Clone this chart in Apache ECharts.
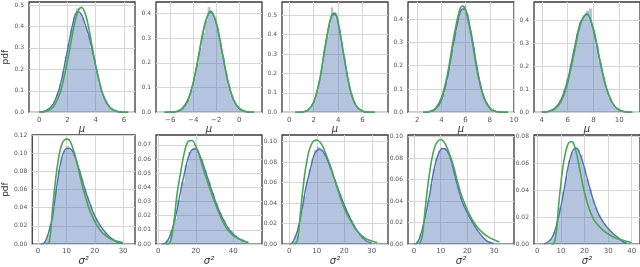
<!DOCTYPE html>
<html><head><meta charset="utf-8">
<script src="https://cdn.jsdelivr.net/npm/echarts@6/dist/echarts.min.js"></script>
<style>html,body{margin:0;padding:0;background:#fff}#c{width:640px;height:267px}</style>
</head><body><div id="c"></div>
<script>
// ---------- DATA ----------
// Panel 1 (mu)
const mu1BlueX = [0, 0.5, 1.0, 1.5, 2.0, 2.5, 2.75, 3.0, 3.25, 3.5, 3.75, 4.0, 4.5, 5.0, 5.5, 6.0, 6.3];
const mu1BlueY = [0.002, 0.009, 0.04, 0.13, 0.29, 0.445, 0.47, 0.455, 0.41, 0.36, 0.29, 0.215, 0.085, 0.024, 0.005, 0.001, 0.0003];
const mu1GreenX = [0, 0.5, 1.0, 1.5, 2.0, 2.5, 2.75, 3.0, 3.25, 3.5, 4.0, 4.5, 5.0, 5.5, 6.0, 6.3];
const mu1GreenY = [0.0006, 0.0049, 0.026, 0.097, 0.241, 0.414, 0.471, 0.489, 0.461, 0.396, 0.220, 0.084, 0.022, 0.004, 0.0005, 0.0001];
const mu1HistStart = 0.2, mu1HistWidth = 0.2;
const mu1Hist = [0.004, 0.009, 0.017, 0.03, 0.055, 0.088, 0.13, 0.19, 0.26, 0.32, 0.39, 0.445, 0.485, 0.46, 0.44, 0.40, 0.36, 0.30, 0.25, 0.185, 0.13, 0.085, 0.056, 0.033, 0.019, 0.01, 0.005, 0.002, 0.001];
// Panel 2 (mu)
const mu2BlueX = [-6.5, -6, -5.5, -5, -4.5, -4, -3.5, -3, -2.5, -2, -1.5, -1, -0.5, 0, 0.5, 1.0, 1.3];
const mu2BlueY = [0, 0.0002, 0.002, 0.011, 0.043, 0.118, 0.235, 0.352, 0.405, 0.36, 0.246, 0.128, 0.05, 0.015, 0.003, 0.0005, 0.0001];
const mu2GreenX = [-6.5, -6, -5.5, -5, -4.5, -4, -3.5, -3, -2.5, -2, -1.5, -1, -0.5, 0, 0.5, 1.0, 1.3];
const mu2GreenY = [0.0001, 0.0006, 0.0034, 0.0145, 0.048, 0.121, 0.237, 0.355, 0.409, 0.363, 0.247, 0.129, 0.052, 0.016, 0.0038, 0.0007, 0.0002];
const mu2HistStart = -6.0, mu2HistWidth = 0.25;
const mu2Hist = [0.0005, 0.0015, 0.004, 0.008, 0.017, 0.032, 0.056, 0.09, 0.14, 0.2, 0.26, 0.32, 0.37, 0.425, 0.40, 0.38, 0.34, 0.28, 0.22, 0.16, 0.105, 0.068, 0.04, 0.022, 0.011, 0.005, 0.002, 0.0008];
// Panel 3 (mu)
const mu3BlueX = [0.5, 1.0, 1.5, 2.0, 2.5, 3.0, 3.5, 3.75, 4.0, 4.5, 5.0, 5.5, 6.0, 6.5, 7.0];
const mu3BlueY = [0, 0.001, 0.009, 0.05, 0.168, 0.36, 0.5, 0.503, 0.46, 0.28, 0.115, 0.032, 0.006, 0.001, 0.0001];
const mu3GreenX = [0.5, 1.0, 1.5, 2.0, 2.5, 3.0, 3.5, 3.75, 4.0, 4.5, 5.0, 5.5, 6.0, 6.5, 7.0];
const mu3GreenY = [0.0001, 0.0015, 0.011, 0.054, 0.171, 0.362, 0.504, 0.510, 0.464, 0.282, 0.113, 0.030, 0.0053, 0.0006, 0.0001];
const mu3HistStart = 1.0, mu3HistWidth = 0.2;
const mu3Hist = [0.002, 0.004, 0.009, 0.018, 0.036, 0.065, 0.11, 0.168, 0.24, 0.32, 0.39, 0.45, 0.54, 0.505, 0.48, 0.43, 0.36, 0.28, 0.21, 0.14, 0.095, 0.058, 0.032, 0.018, 0.009, 0.005, 0.002, 0.001];
// Panel 4 (mu)
const mu4BlueX = [2.5, 3.0, 3.5, 4.0, 4.5, 5.0, 5.5, 5.75, 6.0, 6.5, 7.0, 7.5, 8.0, 8.5, 9.0, 9.5];
const mu4BlueY = [0.0003, 0.002, 0.013, 0.052, 0.148, 0.295, 0.42, 0.443, 0.44, 0.33, 0.175, 0.068, 0.019, 0.004, 0.0007, 0.0001];
const mu4GreenX = [2.5, 3.0, 3.5, 4.0, 4.5, 5.0, 5.5, 5.75, 6.0, 6.5, 7.0, 7.5, 8.0, 8.5, 9.0, 9.5];
const mu4GreenY = [0.0005, 0.0033, 0.0167, 0.062, 0.164, 0.316, 0.438, 0.456, 0.438, 0.316, 0.164, 0.062, 0.0167, 0.0033, 0.0005, 0.0001];
const mu4HistStart = 2.8, mu4HistWidth = 0.25;
const mu4Hist = [0.0015, 0.004, 0.01, 0.022, 0.045, 0.08, 0.13, 0.195, 0.27, 0.345, 0.405, 0.44, 0.455, 0.42, 0.35, 0.28, 0.2, 0.13, 0.08, 0.045, 0.024, 0.011, 0.005, 0.002, 0.001, 0.0005];
// Panel 5 (mu)
const mu5BlueX = [4.0, 4.5, 5.0, 5.5, 6.0, 6.5, 7.0, 7.5, 8.0, 8.5, 9.0, 9.5, 10.0, 10.5, 11.0];
const mu5BlueY = [0.001, 0.004, 0.017, 0.055, 0.14, 0.27, 0.39, 0.425, 0.355, 0.22, 0.103, 0.036, 0.009, 0.002, 0.0003];
const mu5GreenX = [4.0, 4.5, 5.0, 5.5, 6.0, 6.5, 7.0, 7.5, 8.0, 8.5, 9.0, 9.5, 10.0, 10.5, 11.0];
const mu5GreenY = [0.0004, 0.0028, 0.0134, 0.047, 0.127, 0.255, 0.382, 0.428, 0.36, 0.227, 0.107, 0.038, 0.010, 0.002, 0.0003];
const mu5HistStart = 4.4, mu5HistWidth = 0.25;
const mu5Hist = [0.004, 0.009, 0.018, 0.034, 0.058, 0.095, 0.145, 0.21, 0.275, 0.34, 0.39, 0.42, 0.44, 0.45, 0.36, 0.29, 0.215, 0.155, 0.1, 0.062, 0.034, 0.018, 0.009, 0.004, 0.002, 0.001];
// Panel 6 (sigma^2)
const s1BlueX = [1, 2, 3, 4, 5, 6, 7, 8, 9, 10, 11, 12, 13, 14, 15, 16, 17, 18, 20, 22, 24, 26, 28, 30];
const s1BlueY = [0, 0.001, 0.006, 0.016, 0.028, 0.05, 0.072, 0.09, 0.101, 0.105, 0.1055, 0.103, 0.096, 0.087, 0.077, 0.066, 0.056, 0.047, 0.031, 0.02, 0.012, 0.006, 0.002, 0.0005];
const s1GreenX = [3, 4, 5, 6, 7, 8, 9, 10, 11, 12, 13, 14, 15, 16, 17, 18, 20, 22, 24, 26, 28, 30];
const s1GreenY = [0, 0.003, 0.035, 0.066, 0.09, 0.106, 0.1135, 0.1155, 0.1145, 0.108, 0.098, 0.086, 0.072, 0.06, 0.049, 0.039, 0.025, 0.015, 0.009, 0.005, 0.003, 0.0015];
const s1HistStart = 2, s1HistWidth = 1;
const s1Hist = [0.003, 0.01, 0.022, 0.04, 0.061, 0.082, 0.096, 0.103, 0.108, 0.104, 0.1, 0.092, 0.082, 0.072, 0.061, 0.052, 0.043, 0.035, 0.028, 0.022, 0.017, 0.013, 0.01, 0.007, 0.005, 0.003, 0.002, 0.001];
// Panel 7 (sigma^2)
const s2BlueX = [2, 4, 6, 8, 10, 12, 14, 16, 18, 20, 22, 24, 26, 28, 30, 32, 34, 36, 38, 40, 44, 48];
const s2BlueY = [0, 0.001, 0.005, 0.013, 0.024, 0.038, 0.05, 0.061, 0.0665, 0.067, 0.063, 0.056, 0.048, 0.04, 0.032, 0.025, 0.019, 0.014, 0.01, 0.007, 0.003, 0.001];
const s2GreenX = [4, 6, 8, 10, 12, 14, 16, 18, 20, 22, 24, 26, 28, 30, 32, 34, 36, 38, 40, 44, 48];
const s2GreenY = [0, 0.0005, 0.012, 0.035, 0.051, 0.065, 0.0725, 0.073, 0.069, 0.062, 0.053, 0.045, 0.037, 0.030, 0.023, 0.017, 0.012, 0.0085, 0.006, 0.003, 0.0012];
const s2HistStart = 4, s2HistWidth = 2;
const s2Hist = [0.003, 0.009, 0.018, 0.031, 0.044, 0.056, 0.065, 0.068, 0.066, 0.06, 0.052, 0.044, 0.036, 0.029, 0.022, 0.017, 0.012, 0.009, 0.006, 0.004, 0.003, 0.001];
// Panel 8 (sigma^2)
const s3BlueX = [0, 1, 2, 3, 4, 5, 6, 7, 8, 9, 10, 11, 12, 13, 14, 15, 16, 18, 20, 22, 24, 26, 28, 30];
const s3BlueY = [0, 0.001, 0.006, 0.013, 0.025, 0.039, 0.055, 0.066, 0.077, 0.087, 0.091, 0.0927, 0.091, 0.087, 0.081, 0.074, 0.067, 0.052, 0.038, 0.026, 0.016, 0.008, 0.003, 0.001];
const s3GreenX = [2, 3, 4, 5, 6, 7, 8, 9, 10, 11, 12, 13, 14, 15, 16, 18, 20, 22, 24, 26, 28, 30, 32];
const s3GreenY = [0, 0.004, 0.029, 0.055, 0.075, 0.089, 0.097, 0.101, 0.1015, 0.1, 0.096, 0.09, 0.083, 0.076, 0.067, 0.05, 0.035, 0.024, 0.015, 0.009, 0.005, 0.003, 0.0015];
const s3HistStart = 1, s3HistWidth = 1;
const s3Hist = [0.003, 0.009, 0.019, 0.032, 0.047, 0.061, 0.073, 0.083, 0.092, 0.095, 0.092, 0.089, 0.084, 0.078, 0.071, 0.063, 0.056, 0.049, 0.041, 0.035, 0.029, 0.024, 0.019, 0.014, 0.01, 0.007, 0.004, 0.002, 0.001, 0.0005];
// Panel 9 (sigma^2)
const s4BlueX = [0, 1, 2, 3, 4, 5, 6, 7, 8, 9, 10, 11, 12, 13, 14, 15, 16, 18, 20, 22, 24, 26, 28, 30];
const s4BlueY = [0, 0.001, 0.005, 0.013, 0.023, 0.035, 0.048, 0.063, 0.075, 0.083, 0.088, 0.089, 0.088, 0.084, 0.077, 0.067, 0.057, 0.04, 0.029, 0.02, 0.012, 0.006, 0.002, 0.0005];
const s4GreenX = [2, 3, 4, 5, 6, 7, 8, 9, 10, 11, 12, 13, 14, 15, 16, 18, 20, 22, 24, 26, 28, 30, 32];
const s4GreenY = [0, 0.006, 0.028, 0.051, 0.069, 0.083, 0.092, 0.096, 0.0974, 0.096, 0.092, 0.086, 0.079, 0.071, 0.061, 0.044, 0.032, 0.022, 0.015, 0.01, 0.0065, 0.004, 0.002];
const s4HistStart = 1, s4HistWidth = 1;
const s4Hist = [0.003, 0.009, 0.018, 0.029, 0.041, 0.056, 0.07, 0.08, 0.087, 0.089, 0.09, 0.086, 0.081, 0.074, 0.062, 0.054, 0.045, 0.037, 0.032, 0.027, 0.023, 0.018, 0.014, 0.01, 0.007, 0.005, 0.003, 0.002, 0.001, 0.0005];
// Panel 10 (sigma^2)
const s5BlueX = [3, 4, 6, 8, 10, 11, 12, 13, 14, 15, 16, 17, 18, 19, 20, 22, 24, 26, 28, 30, 32, 34, 36, 38];
const s5BlueY = [0, 0.001, 0.004, 0.013, 0.028, 0.037, 0.047, 0.057, 0.064, 0.069, 0.071, 0.0705, 0.067, 0.062, 0.056, 0.043, 0.031, 0.022, 0.016, 0.0115, 0.008, 0.005, 0.002, 0.0005];
const s5GreenX = [6, 7, 8, 9, 10, 11, 12, 13, 14, 15, 16, 17, 18, 19, 20, 22, 24, 26, 28, 30, 32, 34, 36, 38, 40];
const s5GreenY = [0, 0.0005, 0.008, 0.028, 0.045, 0.059, 0.068, 0.074, 0.0757, 0.0755, 0.071, 0.064, 0.055, 0.046, 0.038, 0.026, 0.018, 0.0135, 0.01, 0.0075, 0.0055, 0.004, 0.003, 0.002, 0.001];
const s5HistStart = 3, s5HistWidth = 1.25;
const s5Hist = [0.0005, 0.002, 0.004, 0.009, 0.017, 0.027, 0.039, 0.05, 0.062, 0.068, 0.072, 0.07, 0.066, 0.057, 0.048, 0.041, 0.033, 0.027, 0.022, 0.018, 0.015, 0.012, 0.0095, 0.0075, 0.0055, 0.004, 0.002, 0.001];

// Tick labels
const muXTicks = [[0, 2, 4, 6], [-6, -4, -2, 0], [0, 2, 4, 6], [2, 4, 6, 8, 10], [4, 6, 8, 10]];
const sXTicks = [[0, 10, 20, 30], [0, 20, 40], [0, 10, 20, 30], [0, 10, 20, 30], [0, 10, 20, 30, 40]];
const muYTicks = [[0, 0.1, 0.2, 0.3, 0.4, 0.5], [0, 0.1, 0.2, 0.3, 0.4], [0, 0.1, 0.2, 0.3, 0.4, 0.5], [0, 0.1, 0.2, 0.3, 0.4], [0, 0.1, 0.2, 0.3, 0.4]];
const sYTicks = [[0, 0.02, 0.04, 0.06, 0.08, 0.10, 0.12], [0, 0.01, 0.02, 0.03, 0.04, 0.05, 0.06, 0.07], [0, 0.02, 0.04, 0.06, 0.08, 0.10], [0, 0.02, 0.04, 0.06, 0.08, 0.10], [0, 0.02, 0.04, 0.06, 0.08]];
const axisNames = { mu: 'μ', sigma: 'σ²', pdf: 'pdf' };

// ---------- LAYOUT / STYLE ----------
const lefts = [29, 156, 282, 408, 534];
const panelW = 106;
const rowTop = [2, 135], rowH = [110.3, 110.7];
const xRanges = [[-0.73, 6.79], [-7.24, 1.98], [-0.6, 8.09], [1.24, 10], [3.4, 11.6],
                 [-2.05, 34.2], [-1.2, 55.3], [-2.65, 35.9], [-2.25, 37.5], [-1.4, 43.5]];
const yMaxes = [0.514, 0.4457, 0.567, 0.473, 0.478, 0.12, 0.0769, 0.1064, 0.1016, 0.0807];
const HIST = 'rgba(76,114,176,0.42)', BLUE = '#4c72b0', GREEN = '#4aa654';
const FONT = 'DejaVu Sans';

const panels = [
  [mu1BlueX, mu1BlueY, mu1GreenX, mu1GreenY, mu1HistStart, mu1HistWidth, mu1Hist],
  [mu2BlueX, mu2BlueY, mu2GreenX, mu2GreenY, mu2HistStart, mu2HistWidth, mu2Hist],
  [mu3BlueX, mu3BlueY, mu3GreenX, mu3GreenY, mu3HistStart, mu3HistWidth, mu3Hist],
  [mu4BlueX, mu4BlueY, mu4GreenX, mu4GreenY, mu4HistStart, mu4HistWidth, mu4Hist],
  [mu5BlueX, mu5BlueY, mu5GreenX, mu5GreenY, mu5HistStart, mu5HistWidth, mu5Hist],
  [s1BlueX, s1BlueY, s1GreenX, s1GreenY, s1HistStart, s1HistWidth, s1Hist],
  [s2BlueX, s2BlueY, s2GreenX, s2GreenY, s2HistStart, s2HistWidth, s2Hist],
  [s3BlueX, s3BlueY, s3GreenX, s3GreenY, s3HistStart, s3HistWidth, s3Hist],
  [s4BlueX, s4BlueY, s4GreenX, s4GreenY, s4HistStart, s4HistWidth, s4Hist],
  [s5BlueX, s5BlueY, s5GreenX, s5GreenY, s5HistStart, s5HistWidth, s5Hist]
];

const zip = (xs, ys) => xs.map((x, i) => [x, ys[i]]);
const fmt = (d) => (v) => Number(v).toFixed(d).replace('-', '\u2212');

const grid = [], xAxis = [], yAxis = [], series = [];
panels.forEach((p, i) => {
  const row = Math.floor(i / 5), col = i % 5;
  grid.push({ left: lefts[col], top: rowTop[row], width: panelW, height: rowH[row],
    show: true, borderColor: '#3a3a3a', borderWidth: 1.3, backgroundColor: 'transparent', containLabel: false });
  const xt = row === 0 ? muXTicks[col] : sXTicks[col];
  const yt = row === 0 ? muYTicks[col] : sYTicks[col];
  xAxis.push({ gridIndex: i, type: 'value', min: xRanges[i][0], max: xRanges[i][1],
    axisLine: { show: false }, axisTick: { show: false, customValues: xt },
    splitLine: { show: true, lineStyle: { color: '#d6d6d6', width: 1 } },
    axisLabel: { customValues: xt, formatter: fmt(0), fontSize: 7, color: '#555', margin: 4, fontFamily: FONT, showMinLabel: true, showMaxLabel: true },
    name: row === 0 ? axisNames.mu : axisNames.sigma, nameLocation: 'middle', nameGap: 8,
    nameTextStyle: { fontSize: 10, fontStyle: 'italic', color: '#333', fontFamily: FONT } });
  yAxis.push({ gridIndex: i, type: 'value', min: 0, max: yMaxes[i],
    axisLine: { show: false }, axisTick: { show: false, customValues: yt },
    splitLine: { show: true, lineStyle: { color: '#d6d6d6', width: 1 } },
    axisLabel: { customValues: yt, formatter: fmt(row === 0 ? 1 : 2), fontSize: 6, color: '#555', margin: 5, fontFamily: FONT, showMinLabel: true, showMaxLabel: true },
    name: col === 0 ? axisNames.pdf : '', nameLocation: 'middle', nameGap: 16, nameRotate: 90,
    nameTextStyle: { fontSize: 9, color: '#333', fontFamily: FONT } });
  const [bx, by, gx, gy, hs, hw, hh] = p;
  // histogram as a stepped area: each bin's height held from its left edge to its right edge
  const histData = hh.map((h, k) => [hs + k * hw, h]);
  histData.push([hs + hh.length * hw, hh[hh.length - 1]]);
  series.push({ type: 'line', step: 'end', xAxisIndex: i, yAxisIndex: i, data: histData, showSymbol: false,
    clip: true, silent: true, lineStyle: { width: 0, opacity: 0 }, areaStyle: { color: HIST, opacity: 1 }, z: 2 });
  series.push({ type: 'line', xAxisIndex: i, yAxisIndex: i, data: zip(bx, by), showSymbol: false, smooth: 0.35,
    clip: true, silent: true, lineStyle: { color: BLUE, width: 1.4 }, z: 3 });
  series.push({ type: 'line', xAxisIndex: i, yAxisIndex: i, data: zip(gx, gy), showSymbol: false, smooth: 0.35,
    clip: true, silent: true, lineStyle: { color: GREEN, width: 1.6 }, z: 4 });
});

const chart = echarts.init(document.getElementById('c'), null, { renderer: 'canvas' });
chart.setOption({ animation: false, backgroundColor: '#fff', grid, xAxis, yAxis, series });
</script></body></html>
